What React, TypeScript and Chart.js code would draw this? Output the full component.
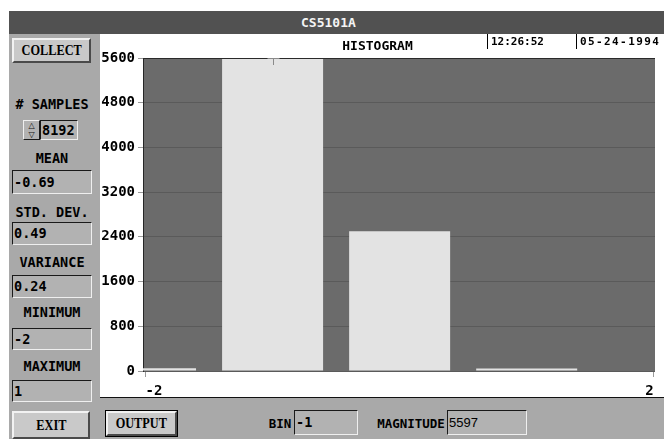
import React, { useEffect, useRef } from "react";
import { Chart, registerables } from "chart.js";

Chart.register(...registerables);

// ---- data ----
const bins = [-2, -1, 0, 1, 2];
const counts = [50, 5597, 2500, 45, 0];
const yTickValues = [0, 800, 1600, 2400, 3200, 4000, 4800, 5600];
const xTickValues = [-2, 2];
const statLabels = ["MEAN", "STD. DEV.", "VARIANCE", "MINIMUM", "MAXIMUM"];
const statValues = ["-0.69", "0.49", "0.24", "-2", "1"];
const sampleCount = "8192";
const cursorBin = -1;
const cursorMagnitude = 5597;
const timeText = "12:26:52";
const dateText = "05-24-1994";

const MONO = "'DejaVu Sans Mono', monospace";
const SERIF = "'Liberation Serif', serif";
const SANS = "'Liberation Sans', sans-serif";

const PANEL = "#a9a9a9";

const statTops = [170, 222, 275, 328, 380];
const statHeights = [24, 23, 23, 22, 22];
const labelCenters = [158, 212, 262, 312, 366];

function Sunken(props: { left: number; top: number; width: number; height: number; children?: any; font?: string; weight?: string; size?: number }) {
  const { left, top, width, height, children, font, weight, size } = props;
  return (
    <div
      style={{
        position: "absolute",
        left,
        top,
        width: width - 2,
        height: height - 2,
        background: "#b2b2b2",
        borderTop: "1px solid #1a1a1a",
        borderLeft: "1px solid #1a1a1a",
        borderBottom: "1px solid #efefef",
        borderRight: "1px solid #efefef",
        fontFamily: font || MONO,
        fontWeight: (weight as any) || "bold",
        fontSize: size || 13.5,
        lineHeight: `${height - 2}px`,
        paddingLeft: 0,
        color: "#000",
        whiteSpace: "nowrap",
        overflow: "hidden",
      }}
    >
      <span style={{ marginLeft: 1 }}>{children}</span>
    </div>
  );
}

function Button(props: { left: number; top: number; width: number; height: number; text: string; outline?: boolean }) {
  const { left, top, width, height, text, outline } = props;
  return (
    <div
      style={{
        position: "absolute",
        left,
        top,
        width: width - (outline ? 6 : 4),
        height: height - (outline ? 6 : 4),
        background: "#c9c9c9",
        borderTop: "2px solid #f2f2f2",
        borderLeft: "2px solid #f2f2f2",
        borderBottom: "2px solid #4a4a4a",
        borderRight: "2px solid #4a4a4a",
        outline: outline ? "1px solid #000" : "none",
        margin: outline ? 1 : 0,
        display: "flex",
        alignItems: "center",
        justifyContent: "center",
        color: "#000",
      }}
    >
      <span
        style={{
          fontFamily: SERIF,
          fontWeight: "bold",
          fontSize: 15,
          display: "inline-block",
          transform: "scaleX(0.82)",
          whiteSpace: "nowrap",
        }}
      >
        {text}
      </span>
    </div>
  );
}

function Label(props: { cy: number; text: string; left?: number; width?: number; size?: number }) {
  const { cy, text, left, width, size } = props;
  return (
    <div
      style={{
        position: "absolute",
        left: left ?? 12,
        width: width ?? 80,
        top: cy - 8,
        height: 16,
        lineHeight: "16px",
        textAlign: "center",
        fontFamily: MONO,
        fontWeight: "bold",
        fontSize: size || 13.5,
        color: "#000",
        whiteSpace: "nowrap",
      }}
    >
      {text}
    </div>
  );
}

export default function App() {
  const canvasRef = useRef<HTMLCanvasElement | null>(null);

  useEffect(() => {
    if (!canvasRef.current) return;
    const plotBg = {
      id: "plotBg",
      beforeDraw(chart: any) {
        const { ctx, chartArea } = chart;
        ctx.save();
        ctx.fillStyle = "#6b6b6b";
        ctx.fillRect(chartArea.left, chartArea.top, chartArea.right - chartArea.left, chartArea.bottom - chartArea.top);
        ctx.restore();
      },
      afterDraw(chart: any) {
        const { ctx, chartArea, scales } = chart;
        ctx.save();
        ctx.strokeStyle = "#2a2a2a";
        ctx.lineWidth = 1;
        ctx.beginPath();
        ctx.moveTo(chartArea.left, chartArea.top + 0.5);
        ctx.lineTo(chartArea.right, chartArea.top + 0.5);
        ctx.stroke();
        // cursor marker
        const cx = Math.round(scales.x.getPixelForValue(cursorBin)) + 0.5;
        const cy = Math.round(scales.y.getPixelForValue(cursorMagnitude));
        ctx.strokeStyle = "#8a8a8a";
        ctx.beginPath();
        ctx.moveTo(cx - 6, cy + 0.5);
        ctx.lineTo(cx + 6, cy + 0.5);
        ctx.moveTo(cx, cy);
        ctx.lineTo(cx, cy + 7);
        ctx.stroke();
        ctx.restore();
      },
    };

    const tickFont = { family: MONO, size: 14, weight: "bold" as const, lineHeight: 1.2 };

    const chart = new Chart(canvasRef.current, {
      type: "bar",
      data: {
        datasets: [
          {
            data: bins.map((b, i) => ({ x: b, y: counts[i] })),
            backgroundColor: "#e3e3e3",
            borderWidth: 0,
            barPercentage: 0.795,
            categoryPercentage: 1,
          } as any,
        ],
      },
      options: {
        animation: false,
        responsive: false,
        maintainAspectRatio: false,
        layout: { padding: { left: 0, right: 9, top: 0, bottom: 0 } },
        plugins: {
          legend: { display: false },
          tooltip: { enabled: false },
          title: {
            display: true,
            text: "HISTOGRAM",
            color: "#000",
            font: { family: MONO, size: 13, weight: "bold", lineHeight: 1 },
            padding: { top: 6, bottom: 5 },
          },
        },
        scales: {
          x: {
            type: "linear",
            offset: false,
            min: -2.02,
            max: 2.01,
            afterBuildTicks: (s: any) => {
              s.ticks = xTickValues.map((v) => ({ value: v }));
            },
            afterFit: (s: any) => {
              s.height = 26;
            },
            ticks: {
              font: tickFont,
              color: "#000",
              padding: 6,
              maxRotation: 0,
              autoSkip: false,
              align: "inner",
              callback: (v: any) => String(v),
            },
            grid: { offset: false, drawOnChartArea: false, tickLength: 6, tickColor: "#9a9a9a" },
            border: { display: false },
          },
          y: {
            type: "linear",
            min: 0,
            max: 5600,
            afterBuildTicks: (s: any) => {
              s.ticks = yTickValues.map((v) => ({ value: v }));
            },
            afterFit: (s: any) => {
              s.width = 43;
            },
            ticks: {
              font: tickFont,
              color: "#000",
              padding: 3,
              autoSkip: false,
              callback: (v: any) => String(v),
            },
            grid: { color: "#5a5a5a", tickColor: "#9a9a9a", tickLength: 5 },
            border: { display: true, color: "#262626" },
          },
        },
      } as any,
      plugins: [plotBg],
    });
    return () => chart.destroy();
  }, []);

  return (
    <div style={{ position: "absolute", left: 0, top: 0, width: 664, height: 439, background: "#fff", overflow: "hidden" }}>
      {/* title bar */}
      <div
        style={{
          position: "absolute",
          left: 9,
          top: 11,
          width: 655,
          height: 23,
          background: "#515151",
          color: "#f4f4f4",
          fontFamily: MONO,
          fontWeight: "bold",
          fontSize: 13,
          lineHeight: "23px",
        }}
      >
        <span style={{ position: "absolute", left: 292 }}>CS5101A</span>
      </div>

      {/* left panel */}
      <div style={{ position: "absolute", left: 9, top: 34, width: 91, height: 405, background: PANEL }} />
      <Button left={12} top={38} width={79} height={25} text="COLLECT" />
      <Label cy={104} text="# SAMPLES" />
      <div
        style={{
          position: "absolute",
          left: 23,
          top: 120,
          width: 15,
          height: 18,
          background: "#b2b2b2",
          borderTop: "1px solid #efefef",
          borderLeft: "1px solid #efefef",
          borderBottom: "1px solid #1a1a1a",
          borderRight: "1px solid #1a1a1a",
          fontFamily: "'DejaVu Sans', sans-serif",
          fontSize: 8,
          lineHeight: "9px",
          textAlign: "center",
          color: "#111",
        }}
      >
        △
        <br />▽
      </div>
      <Sunken left={40} top={120} width={38} height={20}>
        {sampleCount}
      </Sunken>
      {statLabels.map((t, i) => (
        <Label key={t} cy={labelCenters[i]} text={t} />
      ))}
      {statValues.map((v, i) => (
        <Sunken key={i} left={12} top={statTops[i]} width={80} height={statHeights[i]}>
          {v}
        </Sunken>
      ))}
      <Button left={12} top={411} width={78} height={28} text="EXIT" />

      {/* chart area */}
      <div style={{ position: "absolute", left: 100, top: 34, width: 564, height: 363, background: "#fff" }}>
        <canvas ref={canvasRef} width={564} height={363} style={{ display: "block", width: 564, height: 363 }} />
        <div
          style={{
            position: "absolute",
            left: 387,
            top: 0,
            height: 15,
            borderLeft: "1px solid #000",
            paddingLeft: 3,
            fontFamily: MONO,
            fontWeight: "bold",
            fontSize: 11,
            lineHeight: "16px",
            color: "#000",
            whiteSpace: "nowrap",
          }}
        >
          {timeText}
        </div>
        <div
          style={{
            position: "absolute",
            left: 476,
            top: 0,
            height: 15,
            borderLeft: "1px solid #000",
            paddingLeft: 3,
            fontFamily: MONO,
            fontWeight: "bold",
            fontSize: 11,
            letterSpacing: 1.4,
            lineHeight: "16px",
            color: "#000",
            whiteSpace: "nowrap",
          }}
        >
          {dateText}
        </div>
      </div>

      {/* bottom bar */}
      <div style={{ position: "absolute", left: 100, top: 397, width: 564, height: 1, background: "#111" }} />
      <div style={{ position: "absolute", left: 100, top: 398, width: 564, height: 41, background: PANEL }} />
      <Button left={105} top={410} width={73} height={27} text="OUTPUT" outline />
      <Label cy={424} left={262} width={36} text="BIN" size={12.5} />
      <Sunken left={294} top={410} width={64} height={25}>
        {String(cursorBin)}
      </Sunken>
      <Label cy={424} left={372} width={78} text="MAGNITUDE" size={12.5} />
      <Sunken left={447} top={410} width={80} height={25} font={SANS} weight="normal" size={13}>
        {String(cursorMagnitude)}
      </Sunken>
    </div>
  );
}
